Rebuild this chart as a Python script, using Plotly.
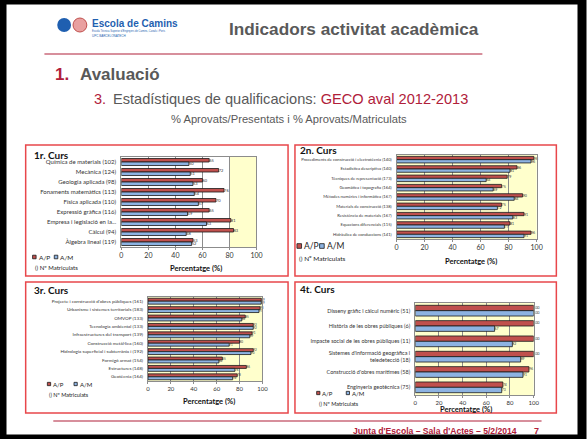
import plotly.graph_objects as go

W, H = 588, 439

# ---- data -------------------------------------------------------------
cats_1 = ["Química de materials (102)", "Mecànica (124)", "Geologia aplicada (98)",
          "Fonaments matemàtics (113)", "Física aplicada (110)", "Expressió gràfica (116)",
          "Empresa i legislació en la...", "Càlcul (94)", "Àlgebra lineal (119)"]
ap_1 = [65, 72, 60, 76, 70, 65, 81, 83, 53]
am_1 = [50, 51, 53, 54, 57, 49, 63, 48, 52]

cats_2 = ["Procediments de construcció i electrotècnia (140)", "Estadística descriptiva (140)",
          "Tècniques de representació (173)", "Geomàtica i topografia (164)",
          "Mètodes numèrics i informàtica (167)", "Materials de construcció (138)",
          "Resistència de materials (167)", "Equacions diferencials (115)",
          "Hidràulica de conduccions (141)"]
ap_2 = [98, 86, 79, 75, 90, 75, 91, 81, 96]
am_2 = [96, 81, 64, 69, 84, 72, 83, 77, 91]

cats_3 = ["Projecte i construcció d'obres públiques (161)", "Urbanisme i sistemes territorials (183)",
          "OMVOP (133)", "Tecnologia ambiental (133)", "Infraestructures del transport (139)",
          "Construcció metàl·lica (160)", "Hidrologia superficial i subterrània i (192)",
          "Formigó armat (154)", "Estructures (148)", "Geotècnia (164)"]
ap_3 = [99, 98, 85, 92, 91, 80, 92, 65, 86, 78]
am_3 = [99, 97, 82, 92, 89, 71, 90, 62, 76, 74]

cats_4 = ["Disseny gràfic i càlcul numèric (51)", "Història de les obres públiques (6)",
          "Impacte social de les obres públiques (11)",
          "Sistemes d'informació geogràfica i<br>teledetecció (18)",
          "Construcció d'obres marítimes (58)", "Enginyeria geotècnica (75)"]
ap_4 = [100, 100, 100, 100, 96, 74]
am_4 = [100, 67, 82, 89, 91, 73]

x_ticks = [0, 20, 40, 60, 80, 100]

RED = "#C0504D"
BLUE = "#8DB3E2"
CRIMSON = "#B0203A"
GREY = "#595959"
FRAME = "#E8474B"
CHART_FONT = "Lato"
HEAD_FONT = "Liberation Sans"


def X(p):
    return p / W


def Y(p):
    return 1 - p / H


# panel pixel boxes: plot area (x0, x1, ytop, ybottom)
panels = [
    dict(cats=cats_1, ap=ap_1, am=am_1, box=(121, 258, 157, 247), cat_size=6, tick_size=7,
         title="1r. Curs", title_xy=(30, 155), frame=(24, 145, 290, 276),
         leg_y=257, leg_x=(31, 53), leg_size=6.5, note_y=267, note_x=31, axt=(197, 268), lbl=4),
    dict(cats=cats_2, ap=ap_2, am=am_2, box=(400, 542, 155, 239), cat_size=4.2, tick_size=7,
         title="2n. Curs", title_xy=(300, 150), frame=(297, 145, 562, 276),
         leg_y=246, leg_x=(299, 322), leg_size=8.5, note_y=258, note_x=299, axt=(475, 261), lbl=3.6),
    dict(cats=cats_3, ap=ap_3, am=am_3, box=(148, 264, 297, 381), cat_size=4.6, tick_size=6,
         title="3r. Curs", title_xy=(30, 290), frame=(24, 282, 290, 413),
         leg_y=384, leg_x=(46, 73), leg_size=6, note_y=395, note_x=46, axt=(210, 401), lbl=3),
    dict(cats=cats_4, ap=ap_4, am=am_4, box=(419, 539, 303, 395), cat_size=5.5, tick_size=6,
         title="4t. Curs", title_xy=(300, 289), frame=(297, 282, 562, 413),
         leg_y=393, leg_x=(319, 349), leg_size=6, note_y=404, note_x=319, axt=(470, 409), lbl=3.4),
]

fig = go.Figure()
layout = dict(
    width=W, height=H,
    margin=dict(l=0, r=0, t=0, b=0),
    paper_bgcolor="white",
    plot_bgcolor="#FFFFCC",
    showlegend=False,
    barmode="group",
    bargap=0.3,
    bargroupgap=0.0,
    font=dict(family=CHART_FONT, color="#222"),
)
shapes, annots = [], []

for i, p in enumerate(panels, start=1):
    sx = "" if i == 1 else str(i)
    x0, x1, yt, yb = p["box"]
    layout["xaxis" + sx] = dict(
        domain=[X(x0), X(x1)], range=[0, 100], anchor="y" + sx,
        tickvals=x_ticks, tickfont=dict(size=p["tick_size"], color="#333"),
        showgrid=True, gridcolor="#8C8C8C", gridwidth=1,
        showline=True, linecolor="#8C8C8C", mirror=True, zeroline=False,
        ticks="outside", ticklen=2, tickcolor="#8C8C8C", ticklabelstandoff=0,
    )
    layout["yaxis" + sx] = dict(
        domain=[Y(yb), Y(yt)], anchor="x" + sx, type="category", autorange="reversed",
        tickfont=dict(size=p["cat_size"], color="#333"),
        showline=True, linecolor="#8C8C8C", mirror=True, showgrid=False,
        ticks="", ticklabelstandoff=3,
    )
    for vals, col in ((p["ap"], RED), (p["am"], BLUE)):
        fig.add_trace(go.Bar(
            x=vals, y=p["cats"], orientation="h", xaxis="x" + sx, yaxis="y" + sx,
            marker=dict(color=col, line=dict(color="#1a1a1a", width=0.8)),
            text=[str(v) for v in vals], textposition="outside",
            textfont=dict(size=p["lbl"], color="#333"),
            constraintext="none", cliponaxis=False, hoverinfo="skip",
        ))

    # panel frame
    fx0, fy0, fx1, fy1 = p["frame"]
    shapes.append(dict(type="rect", xref="paper", yref="paper", x0=X(fx0), x1=X(fx1),
                       y0=Y(fy1), y1=Y(fy0), line=dict(color=FRAME, width=1.5)))
    # titles / notes
    tx, ty = p["title_xy"]
    annots.append(dict(text="<b>" + p["title"] + "</b>", x=X(tx), y=Y(ty), xref="paper", yref="paper",
                       xanchor="left", yanchor="middle", showarrow=False,
                       font=dict(size=10, color="#111", family=CHART_FONT)))
    ax, ay = p["axt"]
    annots.append(dict(text="<b>Percentatge (%)</b>", x=X(ax), y=Y(ay), xref="paper", yref="paper",
                       xanchor="center", yanchor="middle", showarrow=False,
                       font=dict(size=7.5, color="#111", family=CHART_FONT)))
    sq = p["leg_size"] * 0.55
    for lx, col, lab in ((p["leg_x"][0], RED, "A/P"), (p["leg_x"][1], BLUE, "A/M")):
        shapes.append(dict(type="rect", xref="paper", yref="paper",
                           x0=X(lx), x1=X(lx + sq), y0=Y(p["leg_y"] + sq / 2), y1=Y(p["leg_y"] - sq / 2),
                           fillcolor=col, line=dict(color="#1a1a1a", width=0.8)))
        annots.append(dict(text=lab, x=X(lx + sq + 0.5), y=Y(p["leg_y"]), xref="paper", yref="paper",
                           xanchor="left", yanchor="middle", showarrow=False,
                           font=dict(size=p["leg_size"], color="#222", family=CHART_FONT)))
    annots.append(dict(text="() Nº Matriculats", x=X(p["note_x"]), y=Y(p["note_y"]), xref="paper",
                       yref="paper", xanchor="left", yanchor="middle", showarrow=False,
                       font=dict(size=p["leg_size"] - 0.5 if i != 2 else 6.5, color="#222",
                                 family=CHART_FONT)))

# panel 1 plot area is white up to 80
shapes.append(dict(type="rect", xref="x", yref="y domain", x0=0, x1=80, y0=0, y1=1,
                   fillcolor="white", line=dict(width=0), layer="below"))

# ---- slide header -------------------------------------------------------
shapes += [
    dict(type="rect", xref="paper", yref="paper", x0=0, x1=1, y0=0, y1=1,
         line=dict(color="black", width=9)),
    dict(type="line", xref="paper", yref="paper", x0=X(43), x1=X(487), y0=Y(54), y1=Y(54),
         line=dict(color=CRIMSON, width=1.2)),
    dict(type="line", xref="paper", yref="paper", x0=X(52), x1=X(547), y0=Y(421), y1=Y(421),
         line=dict(color=CRIMSON, width=1.2)),
    # logo marks
    dict(type="circle", xref="paper", yref="paper", x0=X(56), x1=X(70), y0=Y(32), y1=Y(18),
         fillcolor="#1F5FB0", line=dict(width=0)),
    dict(type="circle", xref="paper", yref="paper", x0=X(72), x1=X(86), y0=Y(32), y1=Y(18),
         fillcolor="#E9A0A0", line=dict(color="#C0504D", width=1)),
]


def txt(s, x, y, size, color=GREY, anchor="left", family=HEAD_FONT):
    annots.append(dict(text=s, x=X(x), y=Y(y), xref="paper", yref="paper", xanchor=anchor,
                       yanchor="middle", showarrow=False,
                       font=dict(size=size, color=color, family=family)))


txt("<b>Escola de Camins</b>", 89, 23, 10, color="#1F5FB0")
txt("Escola Tècnica Superior d'Enginyers de Camins, Canals i Ports", 89, 31, 2.6, color="#1F5FB0")
txt("UPC BARCELONATECH", 89, 36, 3, color="#1F5FB0")
txt("<b>Indicadors activitat acadèmica</b>", 228, 29, 17.2)
txt("<b>1.</b>", 52, 75, 17, color=CRIMSON)
txt("<b>Avaluació</b>", 77, 75, 17)
txt("3.", 91, 99, 14.5, color=CRIMSON)
txt("Estadístiques de qualificacions: <span style='color:%s'>GECO aval 2012-2013</span>" % CRIMSON,
    110, 99, 14.6)
txt("% Aprovats/Presentats i % Aprovats/Matriculats", 291, 119, 11.2, anchor="center")
txt("<b>Junta d'Escola – Sala d'Actes – 5/2/2014</b>", 524, 431, 8.6, color=CRIMSON, anchor="right")
txt("<b>7</b>", 537, 431, 9, color=CRIMSON)

layout["shapes"] = shapes
layout["annotations"] = annots
fig.update_layout(**layout)

# page body margin would push the 588x439 figure out of the window
fig.write_html("out.html", config={"displayModeBar": False},
               post_script="document.body.style.margin='0';")
